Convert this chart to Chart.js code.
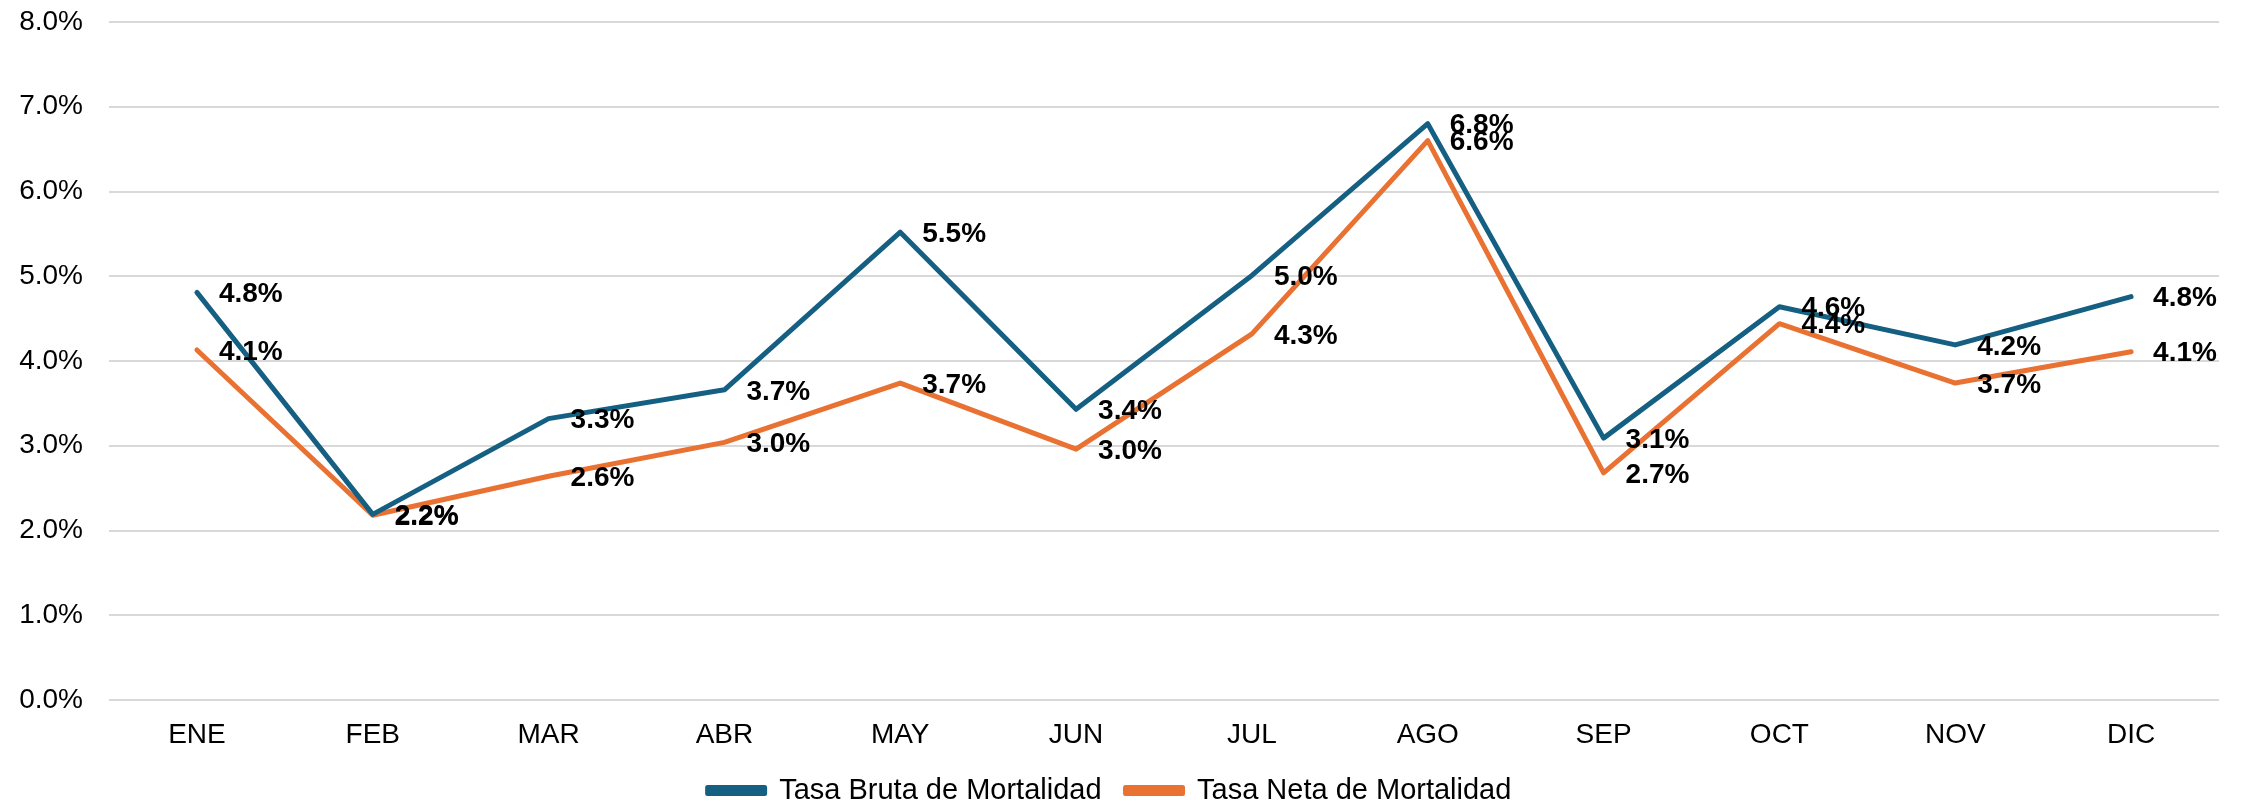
<!DOCTYPE html>
<html>
<head>
<meta charset="utf-8">
<title>Tasa de Mortalidad</title>
<script src="https://cdn.jsdelivr.net/npm/chart.js@4.4.1/dist/chart.umd.min.js"></script>
<style>
  html, body { margin: 0; padding: 0; background: #ffffff; }
  #chart { display: block; }
</style>
</head>
<body>
<canvas id="chart" width="2242" height="805"></canvas>
<script>
// — Data (percent) —
const months = ['ENE', 'FEB', 'MAR', 'ABR', 'MAY', 'JUN', 'JUL', 'AGO', 'SEP', 'OCT', 'NOV', 'DIC'];
const tasaBruta = [4.81, 2.19, 3.32, 3.66, 5.52, 3.43, 5.01, 6.80, 3.09, 4.64, 4.19, 4.76];
const tasaNeta  = [4.13, 2.18, 2.64, 3.04, 3.74, 2.96, 4.32, 6.60, 2.68, 4.44, 3.74, 4.11];
const seriesNames = ['Tasa Bruta de Mortalidad', 'Tasa Neta de Mortalidad'];

const BLUE   = '#156082';
const ORANGE = '#E97132';
const FONT   = "'Liberation Sans', Arial, sans-serif";

// — Value labels to the right of each point —
const pointLabels = {
  id: 'pointLabels',
  afterDatasetsDraw(chart) {
    const ctx = chart.ctx;
    ctx.save();
    ctx.font = `bold 28px ${FONT}`;
    ctx.fillStyle = '#000000';
    ctx.textAlign = 'left';
    ctx.textBaseline = 'middle';
    chart.data.datasets.forEach((ds, i) => {
      chart.getDatasetMeta(i).data.forEach((pt, j) => {
        ctx.fillText(ds.data[j].toFixed(1) + '%', pt.x + 22, pt.y + 2);
      });
    });
    ctx.restore();
  }
};

const ctx = document.getElementById('chart').getContext('2d');
new Chart(ctx, {
  type: 'line',
  data: {
    labels: months,
    datasets: [
      { label: seriesNames[0], data: tasaBruta, borderColor: BLUE, backgroundColor: BLUE,
        borderWidth: 5, pointRadius: 0, tension: 0, borderJoinStyle: 'round', borderCapStyle: 'round' },
      { label: seriesNames[1], data: tasaNeta, borderColor: ORANGE, backgroundColor: ORANGE,
        borderWidth: 5, pointRadius: 0, tension: 0, borderJoinStyle: 'round', borderCapStyle: 'round' }
    ]
  },
  options: {
    responsive: false,
    animation: false,
    layout: { padding: { top: 22, right: 23, bottom: -10, left: 0 } },
    plugins: {
      tooltip: { enabled: false },
      legend: {
        position: 'bottom',
        labels: {
          font: { family: FONT, size: 29 },
          color: '#000000',
          boxWidth: 57,
          boxHeight: 6,
          padding: 24
        }
      }
    },
    scales: {
      x: {
        offset: true,
        afterFit(scale) { scale.height = 52; },
        grid: { display: false, drawTicks: false },
        border: { display: false },
        ticks: { font: { family: FONT, size: 28 }, color: '#000000', padding: 18 }
      },
      y: {
        min: 0,
        max: 8,
        afterFit(scale) {
          scale.width = 109;
          scale.paddingTop = 0;
          scale.paddingBottom = 0;
        },
        grid: { color: '#D9D9D9', lineWidth: 2, drawTicks: false },
        border: { display: false },
        ticks: {
          stepSize: 1,
          padding: 26,
          font: { family: FONT, size: 28 },
          color: '#000000',
          callback: v => v.toFixed(1) + '%'
        }
      }
    }
  },
  plugins: [pointLabels]
});
</script>
</body>
</html>
